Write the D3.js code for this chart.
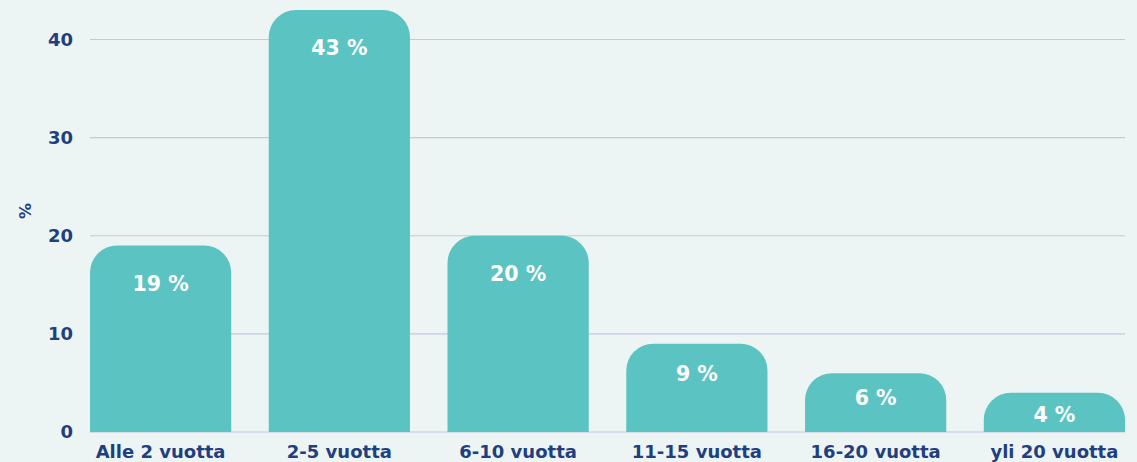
<!DOCTYPE html>
<html>
<head>
<meta charset="utf-8">
<script src="https://d3js.org/d3.v7.min.js"></script>
<style>
  body { margin: 0; background: #edf5f4; }
  text { font-family: "DejaVu Sans", sans-serif; font-weight: bold; }
</style>
</head>
<body>
<svg id="chart" width="1137" height="462"></svg>
<script>
// data
var categories = ["Alle 2 vuotta", "2-5 vuotta", "6-10 vuotta", "11-15 vuotta", "16-20 vuotta", "yli 20 vuotta"]
var values = [19, 43, 20, 9, 6, 4]
var yTicks = [0, 10, 20, 30, 40]

var svg = d3.select("#chart")
var width = +svg.attr("width")
var height = +svg.attr("height")

svg.append("rect").attr("width", width).attr("height", height).attr("fill", "#edf5f4")

var x = d3.scaleBand()
  .domain(categories)
  .range([90, 1125])
  .paddingInner(0.21)
  .paddingOuter(0)

var y = d3.scaleLinear()
  .domain([0, 40])
  .range([432, 39.5])

// grid lines
svg.append("g")
  .selectAll("line")
  .data(yTicks)
  .enter().append("line")
  .attr("x1", 90)
  .attr("x2", 1125)
  .attr("y1", function(d){ return y(d) })
  .attr("y2", function(d){ return y(d) })
  .style("stroke", "#c0cadc")
  .style("stroke-width", 1.2)

// y tick labels
svg.append("g")
  .selectAll("text")
  .data(yTicks)
  .enter().append("text")
  .attr("x", 73)
  .attr("y", function(d){ return y(d) })
  .attr("dy", "0.36em")
  .attr("text-anchor", "end")
  .attr("fill", "#1f3f7f")
  .style("font-size", "18px")
  .text(function(d){ return d })

// y title
svg.append("text")
  .attr("transform", "translate(31,211) rotate(-90)")
  .attr("text-anchor", "middle")
  .attr("fill", "#1f3f7f")
  .style("font-size", "16px")
  .text("%")

// bars with rounded top corners
function barPath(x0, w, top, bottom, r) {
  r = Math.min(r, bottom - top, w / 2)
  return "M" + x0 + "," + bottom +
    "V" + (top + r) +
    "A" + r + "," + r + " 0 0 1 " + (x0 + r) + "," + top +
    "H" + (x0 + w - r) +
    "A" + r + "," + r + " 0 0 1 " + (x0 + w) + "," + (top + r) +
    "V" + bottom + "Z"
}

var data = categories.map(function(c, i){ return {cat: c, val: values[i]} })

svg.append("g")
  .selectAll("path")
  .data(data)
  .enter().append("path")
  .attr("d", function(d){ return barPath(x(d.cat), x.bandwidth(), y(d.val), y(0), 27) })
  .attr("fill", "#5bc4c2")

// value labels
svg.append("g")
  .selectAll("text")
  .data(data)
  .enter().append("text")
  .attr("x", function(d){ return x(d.cat) + x.bandwidth() / 2 })
  .attr("y", function(d){
    var h = y(0) - y(d.val)
    return y(d.val) + Math.min(38, 15 + h / 6)
  })
  .attr("dy", "0.36em")
  .attr("text-anchor", "middle")
  .attr("fill", "#ffffff")
  .style("font-size", "20.5px")
  .text(function(d){ return d.val + " %" })

// category labels
svg.append("g")
  .selectAll("text")
  .data(data)
  .enter().append("text")
  .attr("x", function(d){ return x(d.cat) + x.bandwidth() / 2 })
  .attr("y", 452)
  .attr("dy", "0.36em")
  .attr("text-anchor", "middle")
  .attr("fill", "#1f3f7f")
  .style("font-size", "18px")
  .text(function(d){ return d.cat })
</script>
</body>
</html>
